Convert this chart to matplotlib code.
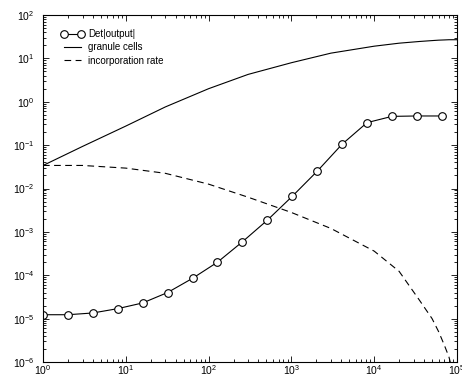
import matplotlib
matplotlib.use("Agg")
import matplotlib.pyplot as plt

plt.rcParams["font.family"] = ["Liberation Sans", "DejaVu Sans"]
plt.rcParams["mathtext.default"] = "regular"

# Det|output| sampled at powers of two
det_x = [2 ** k for k in range(17)]
det_y = [1.23e-5, 1.23e-5, 1.35e-5, 1.7e-5, 2.3e-5, 4.0e-5, 8.5e-5, 2.0e-4,
         5.9e-4, 1.86e-3, 6.6e-3, 0.025, 0.105, 0.33, 0.46, 0.47, 0.47]

# smooth curves
curve_x = [1, 3, 10, 30, 100, 300, 1000, 3000, 1e4, 2e4, 3.5e4, 5e4, 6e4,
           7e4, 8e4, 1e5]
granule = [0.0339, 0.0933, 0.275, 0.759, 2.0, 4.27, 7.94, 13.2, 19.1, 22.4,
           24.5, 25.7, 26.3, 26.6, 26.9, 26.9]
incorp = [0.034, 0.034, 0.0295, 0.0224, 0.0126, 6.3e-3, 2.8e-3, 1.2e-3,
          3.6e-4, 1.23e-4, 2.7e-5, 1.0e-5, 5.0e-6, 2.5e-6, 1.3e-6, 2.5e-7]

fig = plt.figure(figsize=(4.62, 3.77), dpi=100)
ax = fig.add_axes([43 / 462, 15 / 377, 414 / 462, 347 / 377])

ax.plot(det_x, det_y, "-o", color="black", lw=0.8, ms=5.5,
        mfc="white", mec="black", mew=0.8, label="Det|output|")
ax.plot(curve_x, granule, "-", color="black", lw=0.8, label="granule cells")
ax.plot(curve_x, incorp, color="black", lw=0.8, ls=(0, (6, 4)),
        label="incorporation rate")

ax.set_xscale("log")
ax.set_yscale("log")
ax.set_xlim(1, 1e5)
ax.set_ylim(1e-6, 1e2)

ax.tick_params(which="both", direction="in", top=True, right=True,
               labelsize=7.5, width=0.6)
ax.tick_params(which="major", length=4)
ax.tick_params(which="minor", length=2)
ax.tick_params(axis="x", which="major", pad=1)
ax.tick_params(axis="y", which="major", pad=6)
for s in ax.spines.values():
    s.set_linewidth(0.8)

ax.legend(loc="upper left", bbox_to_anchor=(0.034, 0.971), frameon=False,
          fontsize=7, numpoints=2, handlelength=2.4, handletextpad=0.4,
          labelspacing=0.35, borderaxespad=0)

fig.savefig("out.png", dpi=100)
